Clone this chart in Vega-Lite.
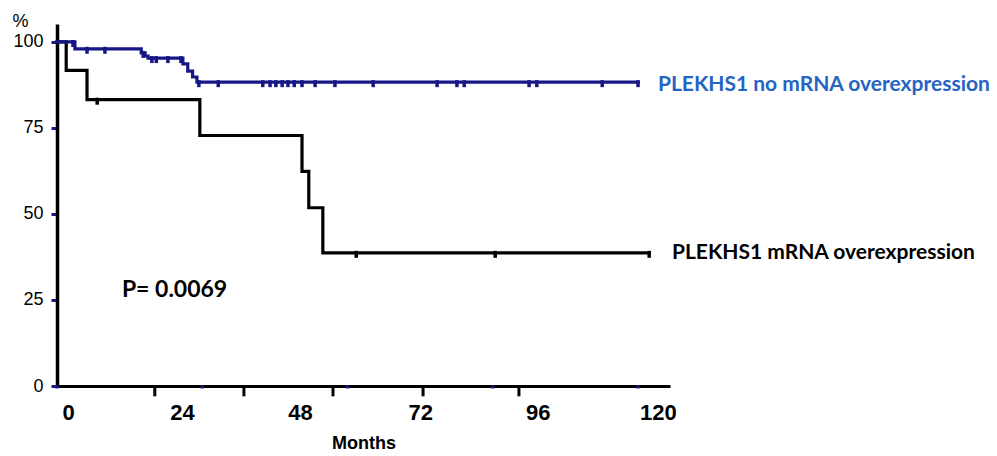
{
  "$schema": "https://vega.github.io/schema/vega-lite/v6.json",
  "width": 613,
  "height": 362,
  "autosize": "none",
  "padding": {"left": 57, "top": 24, "right": 327, "bottom": 70},
  "background": "white",
  "config": {
    "view": {"stroke": null},
    "axis": {"grid": false, "domainColor": "black", "labelColor": "black", "titleColor": "black"}
  },
  "datasets": {
    "curves": [
      {"group": "over", "t": 0, "s": 100},
      {"group": "over", "t": 1.9, "s": 91.7},
      {"group": "over", "t": 6.2, "s": 83.2},
      {"group": "over", "t": 29.5, "s": 72.8},
      {"group": "over", "t": 50.6, "s": 62.4},
      {"group": "over", "t": 52.0, "s": 51.8},
      {"group": "over", "t": 54.9, "s": 38.7},
      {"group": "over", "t": 122.3, "s": 38.7},
      {"group": "no", "t": 0, "s": 100},
      {"group": "no", "t": 3.7, "s": 98.0},
      {"group": "no", "t": 17.4, "s": 96.8},
      {"group": "no", "t": 18.2, "s": 95.9},
      {"group": "no", "t": 18.8, "s": 95.3},
      {"group": "no", "t": 26.0, "s": 93.6},
      {"group": "no", "t": 27.0, "s": 91.5},
      {"group": "no", "t": 28.0, "s": 89.8},
      {"group": "no", "t": 28.9, "s": 88.3},
      {"group": "no", "t": 120, "s": 88.3}
    ],
    "censors": [
      {"group": "over", "t": 8.3, "s": 83.2},
      {"group": "over", "t": 61.8, "s": 38.7},
      {"group": "over", "t": 90.5, "s": 38.7},
      {"group": "over", "t": 122.3, "s": 38.7},
      {"group": "no", "t": 3.3, "s": 100},
      {"group": "no", "t": 6.2, "s": 98.0},
      {"group": "no", "t": 9.9, "s": 98.0},
      {"group": "no", "t": 17.8, "s": 96.8},
      {"group": "no", "t": 19.6, "s": 95.3},
      {"group": "no", "t": 20.5, "s": 95.3},
      {"group": "no", "t": 22.9, "s": 95.3},
      {"group": "no", "t": 25.6, "s": 95.3},
      {"group": "no", "t": 29.3, "s": 88.3},
      {"group": "no", "t": 33.3, "s": 88.3},
      {"group": "no", "t": 42.5, "s": 88.3},
      {"group": "no", "t": 44.0, "s": 88.3},
      {"group": "no", "t": 45.2, "s": 88.3},
      {"group": "no", "t": 46.5, "s": 88.3},
      {"group": "no", "t": 47.7, "s": 88.3},
      {"group": "no", "t": 49.0, "s": 88.3},
      {"group": "no", "t": 50.6, "s": 88.3},
      {"group": "no", "t": 53.3, "s": 88.3},
      {"group": "no", "t": 57.4, "s": 88.3},
      {"group": "no", "t": 65.3, "s": 88.3},
      {"group": "no", "t": 78.5, "s": 88.3},
      {"group": "no", "t": 82.6, "s": 88.3},
      {"group": "no", "t": 84.1, "s": 88.3},
      {"group": "no", "t": 97.5, "s": 88.3},
      {"group": "no", "t": 99.1, "s": 88.3},
      {"group": "no", "t": 112.6, "s": 88.3},
      {"group": "no", "t": 120, "s": 88.3}
    ],
    "xticks": [{"t": 20.2}, {"t": 38.6}, {"t": 57.0}, {"t": 75.6}, {"t": 95.4}],
    "xdots": [{"t": 0}, {"t": 30}, {"t": 60}, {"t": 90}, {"t": 120}],
    "labelNo": [
      {"t": 124.1, "s": 87.5, "label": "PLEKHS1 no mRNA overexpression"}
    ],
    "labelOver": [
      {"t": 127.0, "s": 38.7, "label": "PLEKHS1 mRNA overexpression"}
    ],
    "pval": [
      {"t": 13.4, "s": 27.8, "label": "P= 0.0069"}
    ]
  },
  "layer": [
    {
      "data": {"name": "curves"},
      "mark": {"type": "line", "interpolate": "step-after", "strokeWidth": 3.2, "strokeCap": "square"},
      "encoding": {
        "x": {
          "field": "t", "type": "quantitative",
          "scale": {"domain": [0, 126.6], "nice": false, "zero": false},
          "axis": {
            "values": [2.3, 25.8, 50.2, 75.0, 99.3, 124.1],
            "labelExpr": "datum.value < 10 ? '0' : datum.value < 40 ? '24' : datum.value < 60 ? '48' : datum.value < 85 ? '72' : datum.value < 110 ? '96' : '120'",
            "ticks": false,
            "grid": false,
            "domainColor": "black",
            "domainWidth": 3,
            "labelFont": "Liberation Sans",
            "labelFontWeight": "bold",
            "labelFontSize": 22,
            "labelColor": "black",
            "labelPadding": 16,
            "labelFlush": false,
            "labelOverlap": false,
            "labelBound": false,
            "title": "Months",
            "titleFont": "Liberation Sans",
            "titleFontWeight": "bold",
            "titleFontSize": 18,
            "titleColor": "black",
            "titlePadding": 11
          }
        },
        "y": {
          "field": "s", "type": "quantitative",
          "scale": {"domain": [0, 105.2], "nice": false},
          "axis": {
            "values": [0, 25, 50, 75, 100],
            "grid": false,
            "domainColor": "black",
            "domainWidth": 3.5,
            "tickColor": "#1a1a8c",
            "tickSize": 6,
            "tickWidth": 3,
            "labelFont": "Liberation Sans",
            "labelFontSize": 18,
            "labelColor": "black",
            "labelPadding": 8,
            "title": "%",
            "titleAngle": 0,
            "titleAlign": "left",
            "titleBaseline": "alphabetic",
            "titleX": -45,
            "titleY": 2,
            "titleFont": "Liberation Sans",
            "titleFontWeight": "normal",
            "titleFontSize": 18,
            "titleColor": "black"
          }
        },
        "color": {
          "field": "group", "type": "nominal",
          "scale": {"domain": ["over", "no"], "range": ["#000000", "#161686"]},
          "legend": null
        },
        "order": {"field": "t", "type": "quantitative"},
        "detail": {"field": "group"}
      }
    },
    {
      "data": {"name": "xticks"},
      "mark": {"type": "rule", "color": "black", "strokeWidth": 3},
      "encoding": {
        "x": {"field": "t", "type": "quantitative"},
        "y": {"datum": 0, "type": "quantitative"},
        "y2": {"datum": -3}
      }
    },
    {
      "data": {"name": "censors"},
      "mark": {"type": "tick", "orient": "vertical", "thickness": 3.5, "size": 7, "yOffset": 1.5, "opacity": 1},
      "encoding": {
        "x": {"field": "t", "type": "quantitative"},
        "y": {"field": "s", "type": "quantitative"},
        "color": {
          "field": "group", "type": "nominal",
          "scale": {"domain": ["over", "no"], "range": ["#000000", "#161686"]},
          "legend": null
        }
      }
    },
    {
      "data": {"name": "xdots"},
      "mark": {"type": "square", "color": "#1a1a8c", "size": 9, "opacity": 1, "filled": true, "yOffset": 1},
      "encoding": {
        "x": {"field": "t", "type": "quantitative"},
        "y": {"datum": 0, "type": "quantitative"}
      }
    },
    {
      "data": {"name": "labelNo"},
      "mark": {"type": "text", "align": "left", "baseline": "middle", "font": "Lato", "fontWeight": "bold", "fontSize": 21, "color": "#2563c4"},
      "encoding": {
        "x": {"field": "t", "type": "quantitative"},
        "y": {"field": "s", "type": "quantitative"},
        "text": {"field": "label"}
      }
    },
    {
      "data": {"name": "labelOver"},
      "mark": {"type": "text", "align": "left", "baseline": "middle", "font": "Lato", "fontWeight": "bold", "fontSize": 21, "color": "black"},
      "encoding": {
        "x": {"field": "t", "type": "quantitative"},
        "y": {"field": "s", "type": "quantitative"},
        "text": {"field": "label"}
      }
    },
    {
      "data": {"name": "pval"},
      "mark": {"type": "text", "align": "left", "baseline": "middle", "font": "Lato", "fontWeight": "bold", "fontSize": 23, "color": "black"},
      "encoding": {
        "x": {"field": "t", "type": "quantitative"},
        "y": {"field": "s", "type": "quantitative"},
        "text": {"field": "label"}
      }
    }
  ]
}
